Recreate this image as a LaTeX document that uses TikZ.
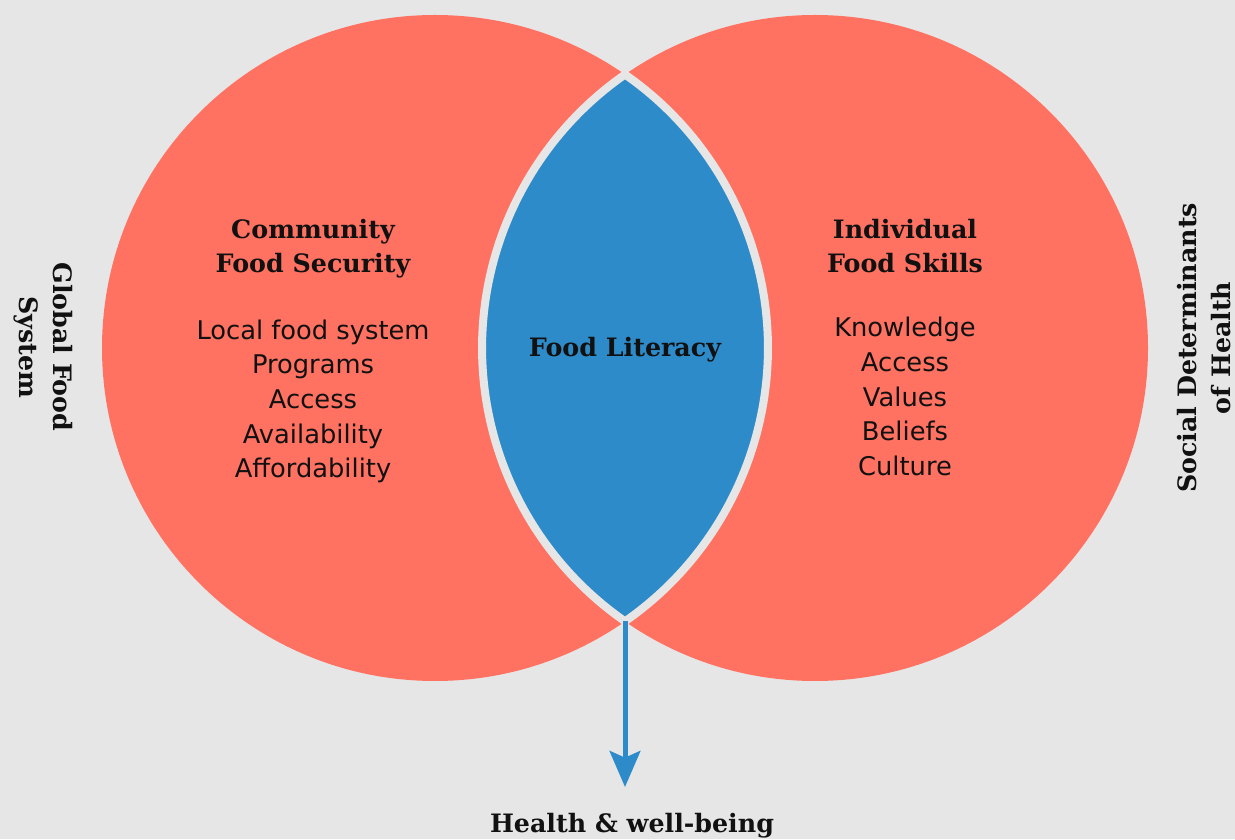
\documentclass[tikz,border=0pt]{standalone}
\usepackage{fontspec}
\setmainfont{DejaVu Sans}
\newfontfamily\headfont{DejaVu Serif}
\usetikzlibrary{positioning, arrows.meta}

\definecolor{setred}{HTML}{FF7262}
\definecolor{litblue}{HTML}{2E8BC9}
\definecolor{paper}{HTML}{E6E6E6}
\definecolor{ink}{HTML}{111111}

\tikzset{
  set/.style={circle, fill=setred, minimum size=499.5pt, inner sep=0pt},
  lens/.style={fill=litblue, draw=paper, line width=6pt},
  head/.style={font=\headfont\bfseries\fontsize{19}{25.5}\selectfont,
    align=center, text=ink, inner sep=0pt},
  item/.style={font=\fontsize{19.3}{26}\selectfont, align=center,
    text=ink, inner sep=0pt},
  flow/.style={draw=litblue, line width=3.75pt,
    -{Stealth[length=27pt, width=23pt, inset=5pt]}},
}

\begin{document}
\begin{tikzpicture}[x=0.75pt, y=0.75pt]
\fill[paper] (0,0) rectangle (1235,839);
\useasboundingbox (0,0) rectangle (1235,839);

% the two sets
\node[set] (leftset) at (435,491) {};
\node[set] (rightset) at (815,491) {};

% overlap
\coordinate (lenstop) at (625,764.5);
\coordinate (lensbottom) at (625,217.5);
\path[lens] (lenstop)
    arc[start angle=124.8, end angle=235.2, radius=333]
    arc[start angle=-55.2, end angle=55.2, radius=333] -- cycle;
\node[head] (lit) at (625,489) {Food Literacy};

% left set
\node[head] (commhead) at (313,590) {Community\\Food Security};
\node[item, below=30.5pt of commhead] (commlist)
    {Local food system\\Programs\\Access\\Availability\\Affordability};

% right set
\node[head] (indhead) at (905,593) {Individual\\Food Skills};
\node[item, below=33pt of indhead] (indlist)
    {Knowledge\\Access\\Values\\Beliefs\\Culture};

% outer labels
\node[head, rotate=-90] (globalsys) at (43,492) {Global Food\\System};
\node[head, rotate=90] (socdet) at (1204,491)
    {Social Determinants\\of Health};

% outcome
\node[head] (wellbeing) at (632,13) {Health \& well-being};
\coordinate (arrowtip) at (625,52);
\draw[flow] (lensbottom) -- (arrowtip);
\end{tikzpicture}
\end{document}
